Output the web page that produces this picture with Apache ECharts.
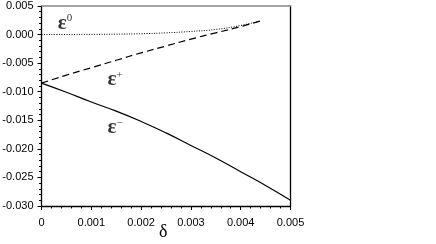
<!DOCTYPE html>
<html><head><meta charset="utf-8">
<script src="https://cdn.jsdelivr.net/npm/echarts@6/dist/echarts.min.js"></script>
<style>html,body{margin:0;padding:0;background:#fff}#c{width:436px;height:244px}</style>
</head><body><div id="c"></div>
<script>
// data
const deltaA = [0, 0.0005, 0.001, 0.0015, 0.002, 0.0025, 0.003, 0.0035, 0.004, 0.0044];
const eps0 = [0, 0.00001, 0.00003, 0.00007, 0.00015, 0.0003, 0.00055, 0.0009, 0.0016, 0.0024];
const epsPlus = [-0.0085, -0.0071, -0.0058, -0.0045, -0.0032, -0.0020, -0.0008, 0.0003, 0.0014, 0.0024];
const deltaB = [0, 0.0005, 0.001, 0.0015, 0.002, 0.0025, 0.003, 0.0035, 0.004, 0.0045, 0.005];
const epsMinus = [-0.0085, -0.0101, -0.0118, -0.0134, -0.0152, -0.0172, -0.0194, -0.0216, -0.0240, -0.0264, -0.0290];
const xTicks = [0, 0.001, 0.002, 0.003, 0.004, 0.005];
const yTicks = [0.005, 0, -0.005, -0.01, -0.015, -0.02, -0.025, -0.03];
const xTitle = '\u03b4';
const curveLabels = [
  {name: '0', x: 0.00047, y: 0.0020, sup: '0'},
  {name: '+', x: 0.00148, y: -0.0079, sup: '+'},
  {name: '-', x: 0.00148, y: -0.0163, sup: '\u2212'}
];

const pair = (xs, ys) => xs.map((x, i) => [x, ys[i]]);
const chart = echarts.init(document.getElementById('c'));
const serif = 'Liberation Serif';
const sans = 'Liberation Sans';
chart.setOption({
  animation: false,
  grid: {left: 41.5, right: 145.5, top: 6, bottom: 38, containLabel: false, outerBoundsMode: 'none'},
  graphic: [{
    type: 'text', left: 159, top: 223,
    style: {text: xTitle, fontFamily: serif, fontSize: 18, fill: '#000'}
  }],
  xAxis: [{
    type: 'value', min: 0, max: 0.005, interval: 0.001, position: 'bottom',
    axisLine: {onZero: false, lineStyle: {color: '#000', width: 1.3}},
    axisTick: {length: 4, lineStyle: {color: '#000'}},
    minorTick: {show: true, splitNumber: 5, length: 2.5, lineStyle: {color: '#000'}},
    splitLine: {show: false},
    axisLabel: {color: '#000', fontFamily: sans, fontSize: 11, margin: 11,
      formatter: v => v === 0 ? '0' : v.toFixed(3)}
  }, {
    type: 'value', min: 0, max: 0.005, position: 'top',
    axisLine: {show: true, onZero: false, lineStyle: {color: '#888', width: 1.5}},
    axisTick: {show: false}, axisLabel: {show: false}, splitLine: {show: false}
  }],
  yAxis: [{
    type: 'value', min: -0.03, max: 0.005, interval: 0.005, position: 'left',
    axisLine: {show: true, onZero: false, lineStyle: {color: '#000', width: 1.3}},
    axisTick: {show: true, length: 4, lineStyle: {color: '#000'}},
    minorTick: {show: true, splitNumber: 5, length: 2.5, lineStyle: {color: '#000'}},
    splitLine: {show: false},
    axisLabel: {color: '#000', fontFamily: sans, fontSize: 11, margin: 8,
      formatter: v => Math.abs(v) < 1e-9 ? '0.000' : v.toFixed(3)}
  }, {
    type: 'value', min: -0.03, max: 0.005, position: 'right',
    axisLine: {show: true, onZero: false, lineStyle: {color: '#000', width: 1.3}},
    axisTick: {show: false}, axisLabel: {show: false}, splitLine: {show: false}
  }],
  series: [
    {type: 'line', data: pair(deltaA, eps0), showSymbol: false, smooth: true,
      lineStyle: {color: '#000', width: 1, type: [1, 1.5]}},
    {type: 'line', data: pair(deltaA, epsPlus), showSymbol: false, smooth: true,
      lineStyle: {color: '#000', width: 1.2, type: [7, 4]}},
    {type: 'line', data: pair(deltaB, epsMinus), showSymbol: false, smooth: true,
      lineStyle: {color: '#000', width: 1.2}},
    {type: 'scatter', symbolSize: 0, silent: true,
      data: curveLabels.map(d => ({value: [d.x, d.y], sup: d.sup})),
      label: {show: true, position: 'inside', fontFamily: serif, fontSize: 20, color: '#000',
        formatter: p => '{e|\u03b5}{s|' + p.data.sup + '}',
        rich: {
          e: {fontFamily: serif, fontSize: 21, fontWeight: 'bold', color: '#000'},
          s: {fontFamily: serif, fontSize: 11, color: '#000', verticalAlign: 'top', padding: [0, 0, 9, 0]}
        }}}
  ]
});
</script></body></html>
